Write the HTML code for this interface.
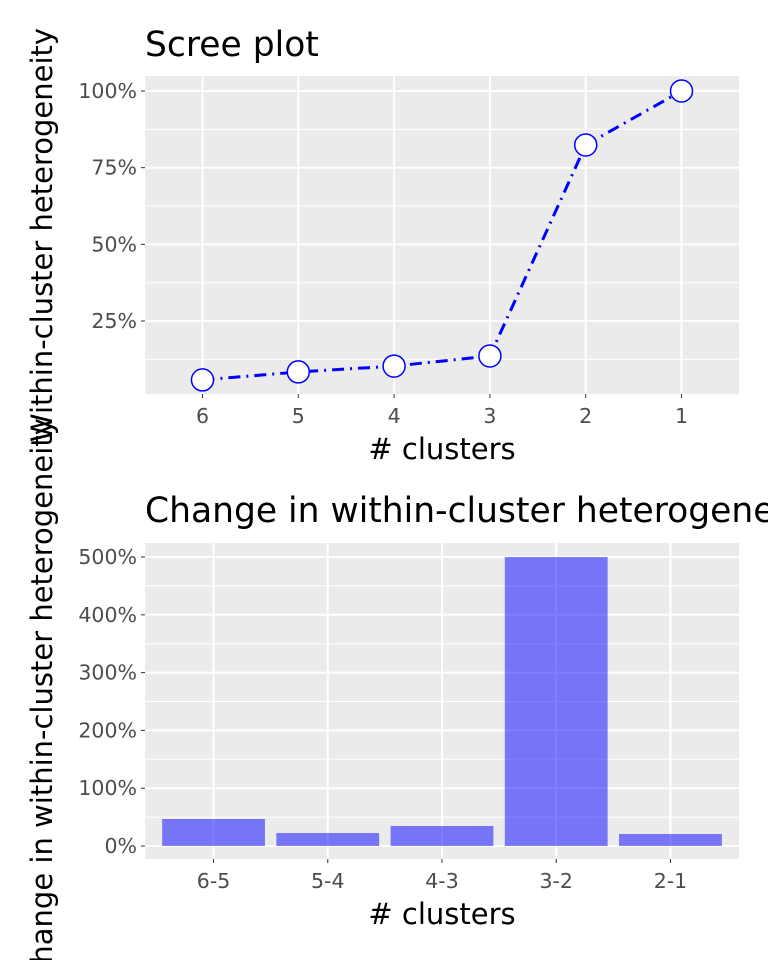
<!DOCTYPE html>
<html><head><meta charset="utf-8"><style>
body{margin:0;background:#fff}
svg text{font-family:"DejaVu Sans","Liberation Sans",sans-serif}
</style></head><body>
<svg id="c" width="768" height="960" xmlns="http://www.w3.org/2000/svg"></svg>
<script>
const screeCats=["6","5","4","3","2","1"];
const screeVals=[5.8,8.4,10.3,13.6,82.4,100];
const screeTicks=[25,50,75,100];
const changeCats=["6-5","5-4","4-3","3-2","2-1"];
const changeVals=[46.7,22.5,34.6,500,20.8];
const changeTicks=[0,100,200,300,400,500];

const svg=document.getElementById('c');
const NS="http://www.w3.org/2000/svg";
function el(t,a,txt){const e=document.createElementNS(NS,t);for(const k in a)e.setAttribute(k,a[k]);if(txt!==undefined)e.textContent=txt;svg.appendChild(e);return e;}
const TICK=20.5, AX=29, TT=34.5;

// Top panel
const t={x0:145,x1:739,y0:76,y1:394};
const ty=v=>397.7-v*3.067;
const tx=i=>t.x0+(i+0.6)*(t.x1-t.x0)/(screeCats.length-1+1.2);
let e=el('rect',{x:t.x0,y:t.y0,width:t.x1-t.x0,height:t.y1-t.y0,fill:'#EBEBEB'});

[12.5,37.5,62.5,87.5].forEach(v=>el('line',{x1:t.x0,x2:t.x1,y1:ty(v),y2:ty(v),stroke:'#fff','stroke-width':1}));
screeTicks.forEach(v=>{el('line',{x1:t.x0,x2:t.x1,y1:ty(v),y2:ty(v),stroke:'#fff','stroke-width':2});
 el('line',{x1:t.x0-4,x2:t.x0,y1:ty(v),y2:ty(v),stroke:'#333','stroke-width':1});
 e=el('text',{x:t.x0-8,y:ty(v)+7,'text-anchor':'end','font-size':TICK,fill:'#4d4d4d'},v+'%');
 });
screeCats.forEach((c,i)=>{el('line',{x1:tx(i),x2:tx(i),y1:t.y0,y2:t.y1,stroke:'#fff','stroke-width':2});
 el('line',{x1:tx(i),x2:tx(i),y1:t.y1,y2:t.y1+4,stroke:'#333'});
 e=el('text',{x:tx(i),y:t.y1+29,'text-anchor':'middle','font-size':TICK,fill:'#4d4d4d'},c);
 });
e=el('polyline',{points:screeVals.map((v,i)=>tx(i)+','+ty(v)).join(' '),fill:'none',stroke:'#0000ff','stroke-width':3,'stroke-dasharray':'12 6 2 6'});

screeVals.forEach((v,i)=>{e=el('circle',{cx:tx(i),cy:ty(v),r:11,fill:'#fff',stroke:'#0000ff','stroke-width':1.5});
 });
e=el('text',{x:145,y:56,'font-size':TT,fill:'#000'},'Scree plot');

e=el('text',{x:442,y:459,'text-anchor':'middle','font-size':AX,fill:'#000'},'# clusters');

e=el('text',{x:0,y:0,'text-anchor':'middle','font-size':AX,fill:'#000',transform:'translate(52,235) rotate(-90)'},'Within-cluster heterogeneity');


// Bottom panel
const b={x0:145,x1:739,y0:543,y1:859};
const by=v=>846-v*0.578;
const bw=(b.x1-b.x0)/(changeCats.length-1+1.2);
const bx=i=>b.x0+(i+0.6)*bw;
e=el('rect',{x:b.x0,y:b.y0,width:b.x1-b.x0,height:b.y1-b.y0,fill:'#EBEBEB'});

[50,150,250,350,450].forEach(v=>el('line',{x1:b.x0,x2:b.x1,y1:by(v),y2:by(v),stroke:'#fff','stroke-width':1}));
changeTicks.forEach(v=>{el('line',{x1:b.x0,x2:b.x1,y1:by(v),y2:by(v),stroke:'#fff','stroke-width':2});
 el('line',{x1:b.x0-4,x2:b.x0,y1:by(v),y2:by(v),stroke:'#333'});
 e=el('text',{x:b.x0-8,y:by(v)+7,'text-anchor':'end','font-size':TICK,fill:'#4d4d4d'},v+'%');
 });
changeCats.forEach((c,i)=>{el('line',{x1:bx(i),x2:bx(i),y1:b.y0,y2:b.y1,stroke:'#fff','stroke-width':2});
 el('line',{x1:bx(i),x2:bx(i),y1:b.y1,y2:b.y1+4,stroke:'#333'});
 e=el('text',{x:bx(i),y:b.y1+29,'text-anchor':'middle','font-size':TICK,fill:'#4d4d4d'},c);
 });
changeVals.forEach((v,i)=>{e=el('rect',{x:bx(i)-bw*0.45,y:by(v),width:bw*0.9,height:by(0)-by(v),fill:'#0000ff','fill-opacity':0.5});
 });
e=el('text',{x:145,y:522,'font-size':TT,fill:'#000'},'Change in within-cluster heterogeneity');

e=el('text',{x:442,y:924,'text-anchor':'middle','font-size':AX,fill:'#000'},'# clusters');

e=el('text',{x:0,y:0,'text-anchor':'middle','font-size':AX,fill:'#000',transform:'translate(52,701) rotate(-90)'},'Change in within-cluster heterogeneity');

</script>
</body></html>
